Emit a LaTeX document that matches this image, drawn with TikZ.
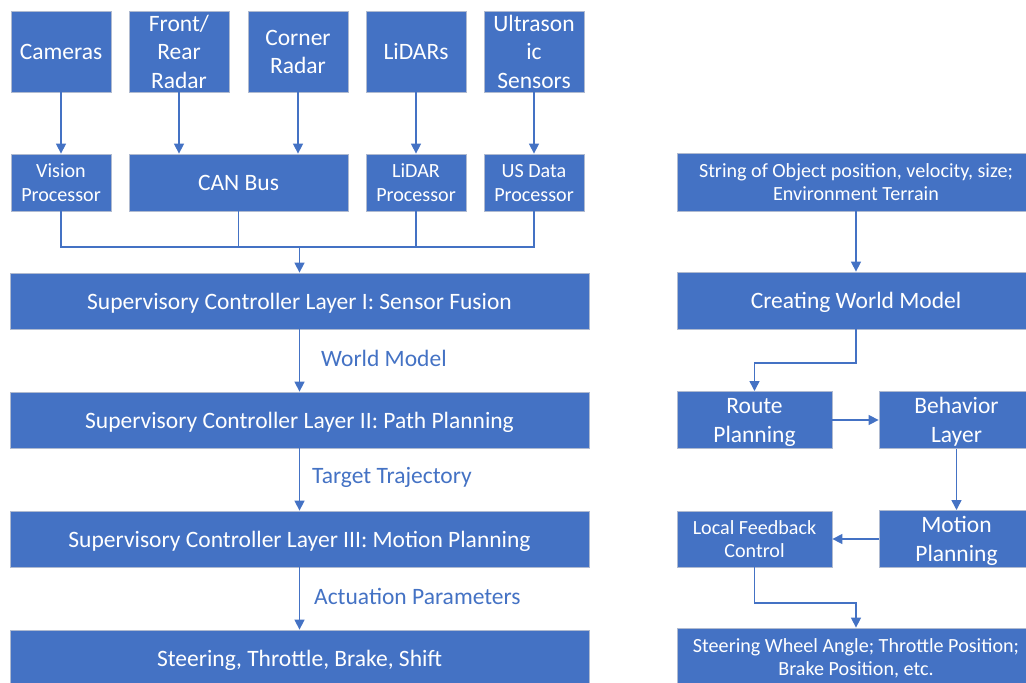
\documentclass[tikz,border=0pt]{standalone}
\usepackage{fontspec}
\setmainfont{Carlito}
\usetikzlibrary{arrows.meta}
\definecolor{boxblue}{HTML}{4472C4}
\definecolor{boxedge}{HTML}{AFBAD0}
% struts give every text block the same ascent/descent, so text sits centred
\newcommand\wl[1]{\rule{0pt}{0.952em}#1\rule[-0.269em]{0pt}{0.269em}}
\tikzset{
  big/.style={font=\fontsize{23.5}{28.5}\selectfont},
  small/.style={font=\fontsize{20.1}{23.5}\selectfont},
  box/.style={rectangle, fill=boxblue, draw=boxedge, line width=0.8pt,
    text=white, align=center, inner sep=0pt},
  conn/.style={draw=boxblue, line width=1.5pt, -{Triangle[width=10pt,length=10pt]}},
  wire/.style={draw=boxblue, line width=1.5pt},
  lbl/.style={text=boxblue, anchor=west, big, inner sep=0pt}
}
\begin{document}
\begin{tikzpicture}[x=1pt, y=-1pt]
\useasboundingbox (0,0) rectangle (1026,683);

% sensors
\node[box, big, minimum width=100pt, minimum height=81pt] (cam) at (61,51.5) {\wl{Cameras}};
\node[box, big, minimum width=100pt, minimum height=81pt] (frr) at (179,51.5) {Front/\\Rear\\Radar};
\node[box, big, minimum width=100pt, minimum height=81pt] (cor) at (298,51.5) {\wl{Corner\\Radar}};
\node[box, big, minimum width=100pt, minimum height=81pt] (lid) at (416,51.5) {\wl{LiDARs}};
\node[box, big, minimum width=100pt, minimum height=81pt] (uss) at (534,51.5) {Ultrason\\ic\\Sensors};

% processors
\node[box, small, minimum width=100pt, minimum height=57pt] (vis) at (61,182.5) {\wl{Vision\\Processor}};
\node[box, big, minimum width=219pt, minimum height=57pt] (can) at (238.5,182.5) {\wl{CAN Bus}};
\node[box, small, minimum width=100pt, minimum height=57pt] (lidp) at (416,182.5) {\wl{LiDAR\\Processor}};
\node[box, small, minimum width=100pt, minimum height=57pt] (usp) at (534,182.5) {\wl{US Data\\Processor}};

% supervisory layers
\node[box, big, minimum width=579pt, minimum height=56pt] (l1) at (299.5,301) {\wl{Supervisory Controller Layer I: Sensor Fusion}};
\node[box, big, minimum width=579pt, minimum height=56pt] (l2) at (299.5,420) {\wl{Supervisory Controller Layer II: Path Planning}};
\node[box, big, minimum width=579pt, minimum height=56pt] (l3) at (299.5,539) {\wl{Supervisory Controller Layer III: Motion Planning}};
\node[box, big, minimum width=579pt, minimum height=56pt] (act) at (299.5,658) {\wl{Steering, Throttle, Brake, Shift}};

% sensor connections
\draw[conn] (cam.south) -- (vis.north);
\draw[conn] (frr.south) -- (frr.south |- can.north);
\draw[conn] (cor.south) -- (cor.south |- can.north);
\draw[conn] (lid.south) -- (lidp.north);
\draw[conn] (uss.south) -- (usp.north);

% fusion bus
\coordinate (busl) at (61,247);
\coordinate (busr) at (534,247);
\coordinate (busm) at (299.5,247);
\draw[wire] (vis.south) -- (busl) -- (busr) -- (usp.south);
\draw[wire] (can.south) -- (can.south |- busl);
\draw[wire] (lidp.south) -- (lidp.south |- busl);
\draw[conn] (busm) -- (l1.north);

% layer connections
\draw[conn] (l1.south) -- (l2.north);
\draw[conn] (l2.south) -- (l3.north);
\draw[conn] (l3.south) -- (act.north);
\node[lbl] (wm) at (321,358) {World Model};
\node[lbl] (tt) at (312,477) {Target Trajectory};
\node[lbl] (ap) at (314,596) {Actuation Parameters};

% right column
\node[box, small, minimum width=358pt, minimum height=58pt] (str) at (856,182) {\wl{String of Object position, velocity, size;\\Environment Terrain}};
\node[box, big, minimum width=358pt, minimum height=57pt] (cwm) at (856,300.5) {\wl{Creating World Model}};
\node[box, big, minimum width=155pt, minimum height=56pt] (route) at (754.5,420) {\wl{Route\\Planning}};
\node[box, big, minimum width=155pt, minimum height=56pt] (beh) at (956.5,420) {\wl{Behavior\\Layer}};
\node[box, small, minimum width=155pt, minimum height=56pt] (lfc) at (754.5,539) {\wl{Local Feedback\\Control}};
\node[box, big, minimum width=155pt, minimum height=56pt] (mot) at (956.5,539) {\wl{Motion\\Planning}};
\node[box, small, minimum width=358pt, minimum height=58pt] (swa) at (856,657) {\wl{Steering Wheel Angle; Throttle Position;\\Brake Position, etc.}};

\coordinate (b1) at (856,363);
\coordinate (b2) at (754.5,363);
\coordinate (b3) at (754.5,603);
\coordinate (b4) at (856,603);
\draw[conn] (str.south) -- (cwm.north);
\draw[conn] (cwm.south) -- (b1) -- (b2) -- (route.north);
\draw[conn] (route.east) -- (beh.west);
\draw[conn] (beh.south) -- (mot.north);
\draw[conn] (mot.west) -- (lfc.east);
\draw[conn] (lfc.south) -- (b3) -- (b4) -- (swa.north);
\end{tikzpicture}
\end{document}
